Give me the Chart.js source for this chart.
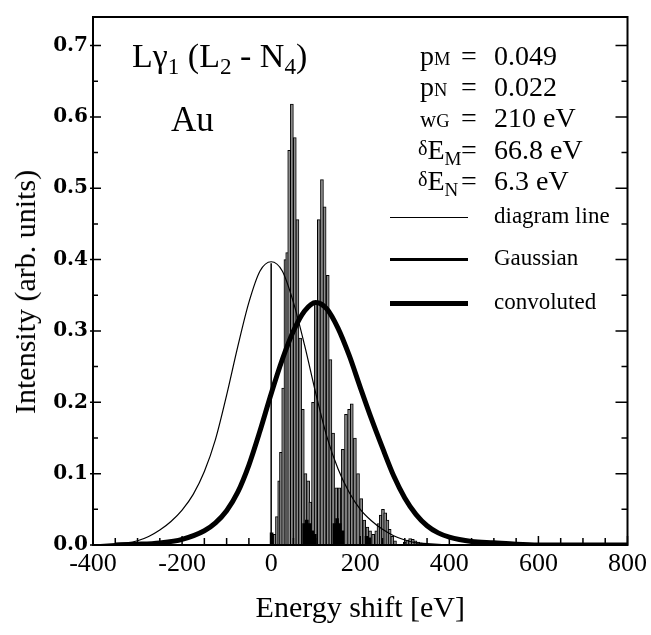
<!DOCTYPE html>
<html><head><meta charset="utf-8">
<script src="https://cdn.jsdelivr.net/npm/chart.js@4/dist/chart.umd.min.js"></script>
<style>
html,body{margin:0;padding:0;background:#fff;}
#wrap{position:relative;width:651px;height:635px;overflow:hidden;background:#fff;}
canvas{position:absolute;left:0;top:0;}
.t{position:absolute;font-family:'Liberation Serif','Times New Roman',serif;line-height:1;white-space:nowrap;color:#000;}
.t sub{font-size:0.68em;vertical-align:baseline;position:relative;top:0.32em;}
.t .s{font-size:0.66em;}
.leg{position:absolute;background:#000;left:390px;width:78px;}
#ytitle{position:absolute;left:25px;top:292px;transform:translate(-50%,-50%) rotate(-90deg);font-size:30px;}
</style></head><body>
<div id="wrap">
<canvas id="c" width="651" height="635"></canvas>
<div class="t" id="ytitle">Intensity (arb. units)</div>
<div class="t" style="left:132px;top:39px;font-size:34px">Lγ<sub>1</sub> (L<sub>2</sub> - N<sub>4</sub>)</div>
<div class="t" style="left:171px;top:102px;font-size:35px">Au</div>

<div class="t" style="left:420px;top:42px;font-size:28px">p<span class="s">M</span></div>
<div class="t" style="left:461px;top:42px;font-size:28px">=</div>
<div class="t" style="left:494px;top:42px;font-size:28px">0.049</div>
<div class="t" style="left:420px;top:73px;font-size:28px">p<span class="s">N</span></div>
<div class="t" style="left:461px;top:73px;font-size:28px">=</div>
<div class="t" style="left:494px;top:73px;font-size:28px">0.022</div>
<div class="t" style="left:420px;top:104px;font-size:28px"><span class="s" style="font-size:0.8em">w</span><span class="s">G</span></div>
<div class="t" style="left:461px;top:104px;font-size:28px">=</div>
<div class="t" style="left:494px;top:104px;font-size:28px">210 eV</div>
<div class="t" style="left:418px;top:136px;font-size:28px"><span style="font-size:0.72em;position:relative;top:-0.2em">δ</span>E<sub>M</sub></div>
<div class="t" style="left:461px;top:136px;font-size:28px">=</div>
<div class="t" style="left:494px;top:136px;font-size:28px">66.8 eV</div>
<div class="t" style="left:418px;top:167px;font-size:28px"><span style="font-size:0.72em;position:relative;top:-0.2em">δ</span>E<sub>N</sub></div>
<div class="t" style="left:461px;top:167px;font-size:28px">=</div>
<div class="t" style="left:494px;top:167px;font-size:28px">6.3 eV</div>

<div class="leg" style="top:217px;height:1px"></div>
<div class="t" style="left:494px;top:204px;font-size:23px">diagram line</div>
<div class="leg" style="top:258px;height:3px"></div>
<div class="t" style="left:494px;top:246px;font-size:23px">Gaussian</div>
<div class="leg" style="top:301px;height:5px"></div>
<div class="t" style="left:494px;top:290px;font-size:23px">convoluted</div>
</div>
<script>
// ---- data ----
const xTickValues = [-400, -200, 0, 200, 400, 600, 800];
const yTickValues = [0, 0.1, 0.2, 0.3, 0.4, 0.5, 0.6, 0.7];

// thin Gaussian (w_G = 210 eV) centred on the diagram line
const gaussEnergy = [-400,-350,-325,-300,-275,-250,-225,-200,-175,-150,-125,-100,-75,-50,-25,0,25,50,75,100,125,150,175,200,225,250,275,300,325,350,400];
const gaussIntensity = [0.000,0.002,0.003,0.006,0.012,0.021,0.033,0.049,0.071,0.103,0.148,0.210,0.278,0.340,0.384,0.397,0.384,0.340,0.280,0.213,0.152,0.107,0.074,0.050,0.034,0.022,0.013,0.007,0.003,0.002,0.000];

// convoluted spectrum (thick line)
const convEnergy = [-350,-300,-250,-200,-150,-125,-100,-75,-50,-25,0,25,50,75,100,125,150,175,200,225,250,275,300,325,350,375,400,450,500,550,600,700,800];
const convIntensity = [0.000,0.001,0.003,0.008,0.020,0.031,0.048,0.074,0.112,0.160,0.212,0.260,0.300,0.328,0.340,0.331,0.304,0.266,0.221,0.177,0.136,0.097,0.066,0.043,0.027,0.017,0.011,0.005,0.003,0.001,0.000,0.000,0.000];

// diagram line (vertical stick at 0 eV)
const diagramEnergy = [0, 0];
const diagramIntensity = [0, 0.395];

// satellite stick spectrum
const satEnergy = [8,13,18,22,27,32,36,40.5,46.5,53,59,65,71,77,83,88,94,100,107,114,120,127,133,139,146,153,161,168,175,181,188,195,202,209,216,222,229,236,241,246,251,256,261,266,272,278,300,306,312,318,324,330,336];
const satIntensity = [0.015,0.04,0.09,0.13,0.22,0.40,0.41,0.553,0.618,0.571,0.456,0.29,0.19,0.10,0.09,0.06,0.20,0.34,0.456,0.512,0.474,0.378,0.26,0.157,0.08,0.08,0.134,0.183,0.19,0.198,0.15,0.10,0.065,0.035,0.025,0.02,0.015,0.02,0.03,0.042,0.05,0.045,0.035,0.022,0.012,0.006,0.004,0.007,0.009,0.008,0.006,0.004,0.003];

// overlapping (dark) sticks near the baseline
const darkEnergy = [1,74,80,86,92,98,142,148,154,160,214,220];
const darkIntensity = [0.017,0.03,0.035,0.03,0.02,0.015,0.03,0.037,0.03,0.02,0.012,0.01];

const pts = (xs, ys) => xs.map((x, i) => ({x: x, y: ys[i]}));

const framePlugin = {
  id: 'frame',
  afterDatasetsDraw(chart) {
    const {ctx, chartArea: a, scales: {x, y}} = chart;
    ctx.save();
    ctx.strokeStyle = '#000';
    ctx.lineWidth = 2;
    ctx.strokeRect(a.left, a.top, a.right - a.left, a.bottom - a.top);
    ctx.lineWidth = 1.5;
    ctx.beginPath();
    for (let v = x.min; v <= x.max; v += 50) {
      const px = x.getPixelForValue(v);
      const len = (v % 200 === 0) ? 9 : 7;
      ctx.moveTo(px, a.bottom); ctx.lineTo(px, a.bottom - len);
    }
    for (let i = 0; i * 0.05 <= y.max + 1e-9; i++) {
      const py = y.getPixelForValue(i * 0.05);
      const major = i % 2 === 0;
      ctx.moveTo(a.left - (major ? 3 : 0), py); ctx.lineTo(a.left + (major ? 8 : 5), py);
      ctx.moveTo(a.right, py); ctx.lineTo(a.right - (major ? 12 : 6), py);
    }
    ctx.stroke();
    ctx.restore();
  }
};

new Chart(document.getElementById('c'), {
  type: 'bar',
  data: {
    datasets: [
      {type: 'line', label: 'convoluted', data: pts(convEnergy, convIntensity), borderColor: '#000', borderWidth: 5, pointRadius: 0, cubicInterpolationMode: 'monotone', fill: false, order: 1},
      {type: 'line', label: 'Gaussian', data: pts(gaussEnergy, gaussIntensity), borderColor: '#000', borderWidth: 1.2, pointRadius: 0, cubicInterpolationMode: 'monotone', fill: false, order: 2},
      {type: 'line', label: 'diagram line', data: pts(diagramEnergy, diagramIntensity), borderColor: '#000', borderWidth: 1.5, pointRadius: 0, fill: false, order: 2},
      {type: 'bar', label: 'dark', data: pts(darkEnergy, darkIntensity), backgroundColor: '#000', borderWidth: 0, barThickness: 3, grouped: false, order: 3},
      {type: 'bar', label: 'satellites', data: pts(satEnergy, satIntensity), backgroundColor: '#8c8c8c', borderColor: '#000', borderWidth: 1, borderSkipped: 'bottom', barThickness: 3, grouped: false, order: 4}
    ]
  },
  options: {
    responsive: false,
    animation: false,
    layout: {padding: {top: 5, right: 23, left: 0, bottom: 0}},
    plugins: {legend: {display: false}, tooltip: {enabled: false}},
    scales: {
      x: {
        type: 'linear', min: -400, max: 800, offset: false,
        afterBuildTicks: s => { s.ticks = xTickValues.map(v => ({value: v})); },
        afterFit: s => { s.height = 90; },
        ticks: {autoSkip: false, maxRotation: 0, minRotation: 0, padding: 4, color: '#000', font: {family: 'Liberation Serif', size: 26}, callback: v => String(v)},
        grid: {display: false, drawTicks: false},
        border: {display: false},
        title: {display: true, text: 'Energy shift [eV]', color: '#000', font: {family: 'Liberation Serif', size: 30}, padding: {top: 0, bottom: 8}}
      },
      y: {
        type: 'linear', min: 0, max: 0.74,
        afterBuildTicks: s => { s.ticks = yTickValues.map(v => ({value: v})); },
        afterFit: s => { s.width = 93; },
        ticks: {padding: 5, color: '#000', font: {family: 'DejaVu Serif', size: 20, weight: 'bold'}, callback: v => Number(v).toFixed(1)},
        grid: {display: false, drawTicks: false},
        border: {display: false},
        title: {display: false}
      }
    }
  },
  plugins: [framePlugin]
});
</script>
</body></html>
